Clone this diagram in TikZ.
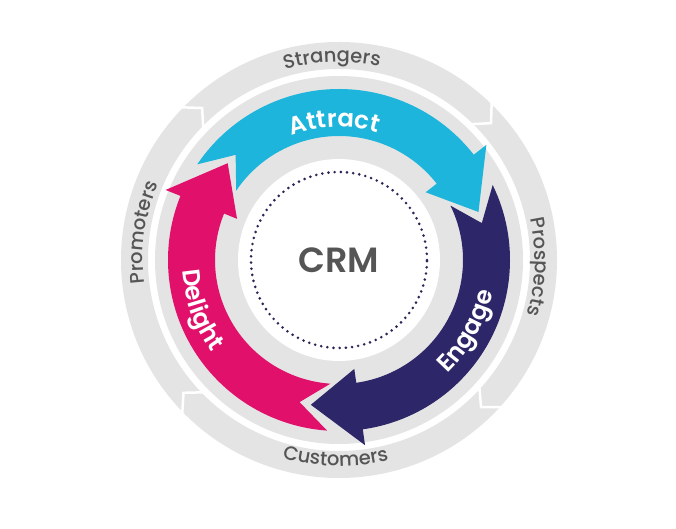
\documentclass[tikz,border=0pt]{standalone}
\usepackage{fontspec}
\setmainfont{Poppins}[BoldFont={Poppins SemiBold}]
\newfontfamily\popmed{Poppins Medium}
\usetikzlibrary{decorations.text}
\definecolor{ringgrey}{HTML}{E4E4E4}
\definecolor{txtgrey}{HTML}{555555}
\definecolor{cyanA}{HTML}{1DB5DB}
\definecolor{navyE}{HTML}{2D2668}
\definecolor{pinkD}{HTML}{E0106B}
\definecolor{dotnavy}{HTML}{2A2758}
\newcommand\crmarrow[2]{%
  \pgfmathsetmacro\arB{#2+19}%
  \pgfmathsetmacro\arC{#2+127}%
  \pgfmathsetmacro\arN{#2+115.5}%
  \fill[#1] (\arC:171pt) arc[start angle=\arC, end angle=\arB, radius=171pt]
    -- (\arB:187pt) -- (#2:147.5pt) -- (\arB:110pt) -- (\arB:124pt)
    arc[start angle=\arB, end angle=\arC, radius=124pt] -- (\arN:147.5pt) -- cycle;}
\tikzset{
  outerlbl/.style={decorate, decoration={text along path, text align=center,
      text color=txtgrey, text={|\popmed\fontsize{19.5}{21}\selectfont|#1}}},
  innerlbl/.style={decorate, decoration={text along path, text align=center,
      text color=white, text={|\bfseries\fontsize{24.5}{26}\selectfont|#1}}},
  chevron/.style={white, line width=2.5pt},
}
\begin{document}
\begin{tikzpicture}[x=1pt,y=1pt]
\useasboundingbox (0,0) rectangle (676,529);
\fill[white] (0,0) rectangle (676,529);
\begin{scope}[shift={(339,269)}]
  % outer ring
  \fill[ringgrey, even odd rule] (0,0) circle[radius=218pt] (0,0) circle[radius=191pt];
  \foreach \s in {132,42,-46,-139.5}
    \draw[chevron] (\s+4.5:222pt) -- (\s:204.5pt) -- (\s+4.5:187pt);
  % inner disc
  \fill[ringgrey] (0,0) circle[radius=184pt];
  % coloured arrows
  \crmarrow{cyanA}{19}
  \crmarrow{navyE}{-101}
  \crmarrow{pinkD}{139}
  % centre
  \fill[white] (0,0) circle[radius=101pt];
  \draw[dotnavy, line width=2.9pt, line cap=round, dash pattern=on 0pt off 6.2pt] (0,0) circle[radius=88pt];
  \node[font=\bfseries\fontsize{35}{35}\selectfont, text=txtgrey] (crm) at (0,0) {CRM};
  % outer labels
  \path[outerlbl=Strangers] (132:198pt) arc[start angle=132, end angle=52, radius=198pt];
  \path[outerlbl=Prospects] (40:196pt) arc[start angle=40, end angle=-44, radius=196pt];
  \path[outerlbl=Customers] (-136:206pt) arc[start angle=-136, end angle=-46, radius=206pt];
  \path[outerlbl=Promoters] (215:196pt) arc[start angle=215, end angle=129, radius=196pt];
  % inner labels
  \path[innerlbl=Attract] (140:133pt) arc[start angle=140, end angle=44, radius=133pt];
  \path[innerlbl=Engage] (-80:157pt) arc[start angle=-80, end angle=22, radius=157pt];
  \path[innerlbl=Delight] (150:157pt) arc[start angle=150, end angle=250, radius=157pt];
\end{scope}
\end{tikzpicture}
\end{document}
